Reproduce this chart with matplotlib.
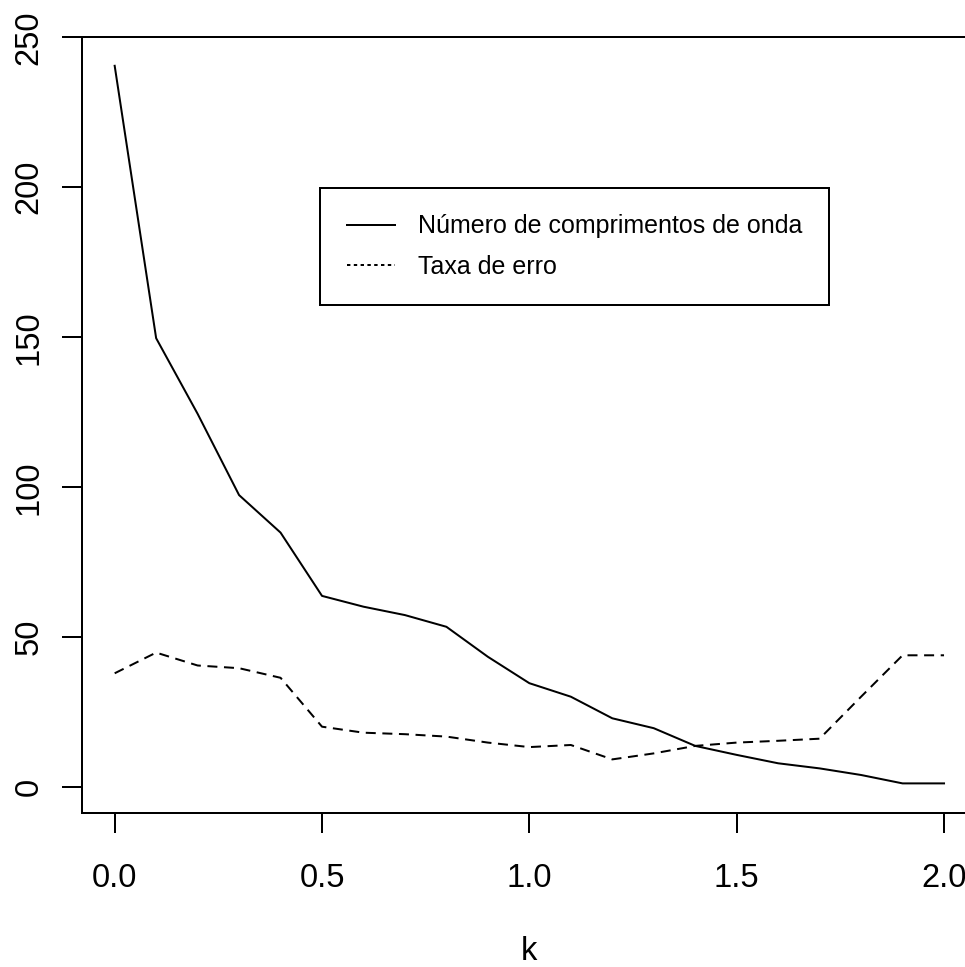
import matplotlib
matplotlib.use("Agg")
import matplotlib.pyplot as plt
from matplotlib.lines import Line2D

# ---- data ----
k = [0.0, 0.1, 0.2, 0.3, 0.4, 0.5, 0.6, 0.7, 0.8, 0.9, 1.0,
     1.1, 1.2, 1.3, 1.4, 1.5, 1.6, 1.7, 1.8, 1.9, 2.0]
n_wavelengths = [240.5, 149.7, 124.5, 97.4, 84.9, 63.8, 60.2, 57.4, 53.5, 43.5, 34.7,
                 30.2, 23.0, 19.7, 13.8, 10.8, 8.0, 6.3, 4.1, 1.3, 1.3]
error_rate = [38.0, 44.9, 40.6, 39.7, 36.5, 20.2, 18.2, 17.7, 16.9, 14.9, 13.4,
              14.1, 9.3, 11.3, 13.8, 14.9, 15.5, 16.2, 30.2, 44.0, 44.0]
xticks = [0.0, 0.5, 1.0, 1.5, 2.0]
xticklabels = ["0.0", "0.5", "1.0", "1.5", "2.0"]
yticks = [0, 50, 100, 150, 200, 250]
yticklabels = ["0", "50", "100", "150", "200", "250"]
legend_labels = ["Número de comprimentos de onda", "Taxa de erro"]
xlabel = "k"

plt.rcParams['font.family'] = ['Liberation Sans', 'DejaVu Sans']

W, H = 965, 967
fig = plt.figure(figsize=(W / 100, H / 100), dpi=100)
left_px, right_px, top_px, bottom_px = 81.5, 977.2, 37.3, 813.3
ax = fig.add_axes([left_px / W, (H - bottom_px) / H,
                   (right_px - left_px) / W, (bottom_px - top_px) / H])

lw = 1.44
ax.plot(k, n_wavelengths, color='black', lw=lw, solid_joinstyle='round')
ax.plot(k, error_rate, color='black', lw=lw, linestyle=(0, (5, 3.3)))

ax.set_xlim(-0.08, 2.08)
ax.set_ylim(-8.67, 250)

for s in ax.spines.values():
    s.set_linewidth(lw)
    s.set_color('black')

ax.set_xticks(xticks)
ax.set_xticklabels(xticklabels)
ax.set_yticks(yticks)
ax.set_yticklabels(yticklabels)
ax.tick_params(axis='both', direction='out', length=14.4, width=lw,
               labelsize=23.5, colors='black')
ax.tick_params(axis='x', pad=21.5)
ax.tick_params(axis='y', pad=12)
for lab in ax.get_yticklabels():
    lab.set_rotation(90)
    lab.set_va('center')
    lab.set_ha('right')

ax.set_xlabel(xlabel, fontsize=23.5, labelpad=30)

handles = [Line2D([], [], color='black', lw=lw),
           Line2D([], [], color='black', lw=lw, linestyle=(0, (1.7, 1.7)))]
leg_fs = 18
leg = ax.legend(handles, legend_labels, loc='upper left',
                bbox_to_anchor=((320 - left_px) / (right_px - left_px),
                                (bottom_px - 188) / (bottom_px - top_px)),
                borderaxespad=0, fancybox=False, framealpha=1,
                edgecolor='black', handlelength=1.92, handletextpad=0.96,
                borderpad=1.06, labelspacing=0.65,
                prop={'size': leg_fs})
leg.get_frame().set_linewidth(lw)

fig.savefig("out.png", dpi=100)
